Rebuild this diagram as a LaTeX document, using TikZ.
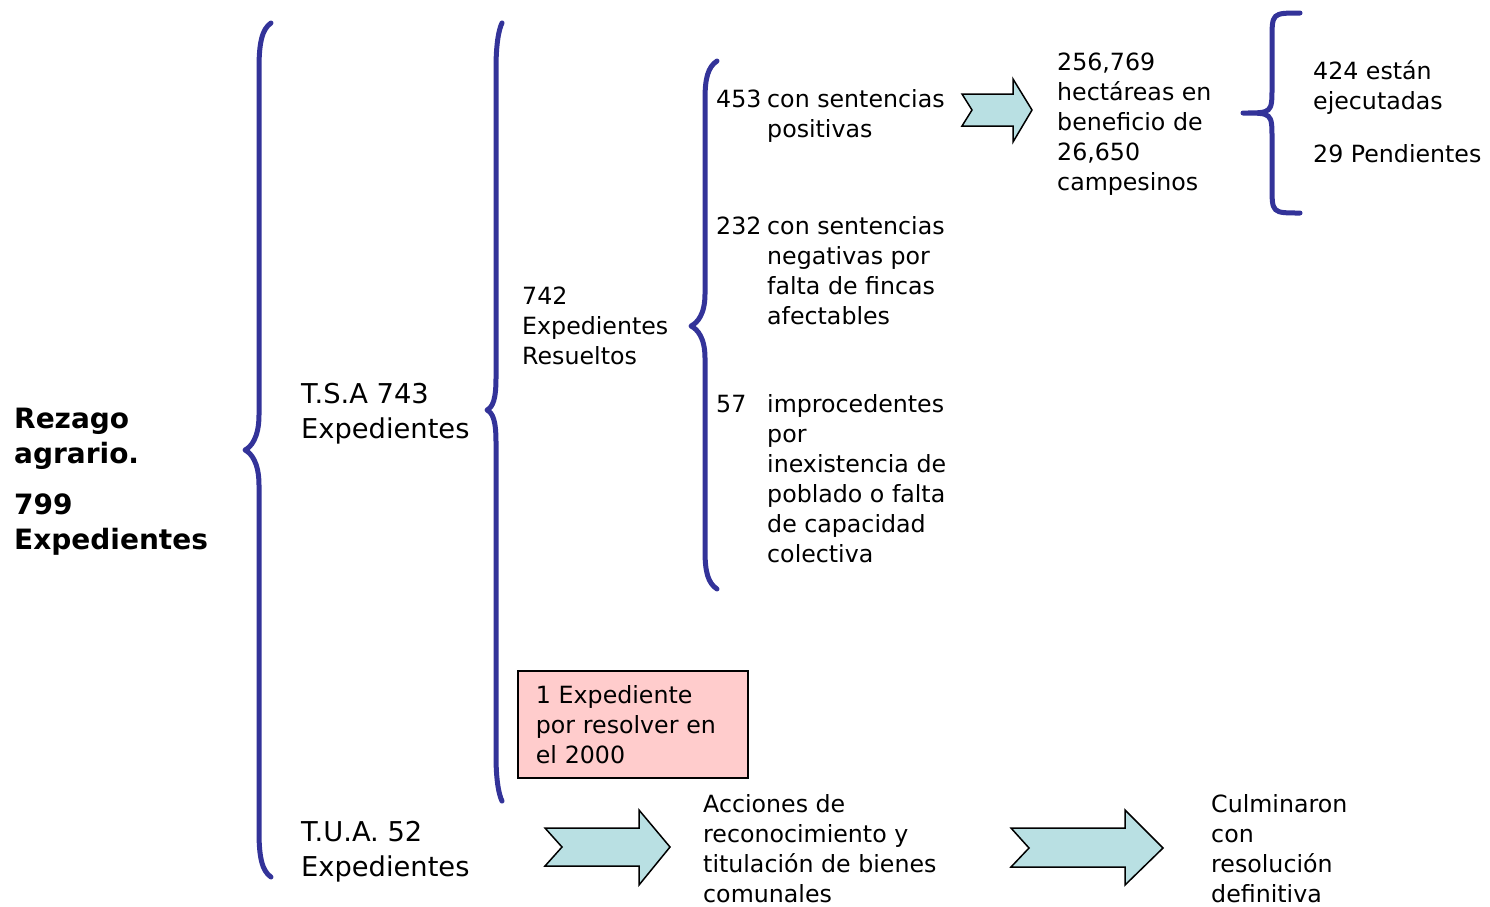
\documentclass[tikz,border=0pt]{standalone}
\usepackage{fontspec}
\setmainfont{DejaVu Sans}
\definecolor{bracecol}{HTML}{333399}
\definecolor{arrowfill}{HTML}{B9E0E3}
\definecolor{pinkfill}{HTML}{FFCCCC}
% rounded (quarter-ellipse) brace
\newcommand\bracedraw[8]{%
  \draw[bracesty] (#1,#4) .. controls (#2,#4) .. (#2,#4+#7) -- (#2,#5-#8)
    .. controls (#2,#5) .. (#3,#5) .. controls (#2,#5) .. (#2,#5+#8)
    -- (#2,#6-#7) .. controls (#2,#6) .. (#1,#6);}
% tall brace with swept ends
\newcommand\tallbrace[8]{%
  \draw[bracesty] (#1,#4) .. controls (#2+3,#4+6) and (#2,#4+#7*0.45) .. (#2,#4+#7) -- (#2,#5-#8)
    .. controls (#2,#5-#8*0.35) and (#3+6,#5-3) .. (#3,#5) .. controls (#3+6,#5+3) and (#2,#5+#8*0.35) .. (#2,#5+#8)
    -- (#2,#6-#7) .. controls (#2,#6-#7*0.45) and (#2+3,#6-6) .. (#1,#6);}
\newcommand\blockarrow[9]{%
  \draw[blockarr] (#1,#5) -- (#3,#5) -- (#3,#7) -- (#4,#9) -- (#3,#8)
    -- (#3,#6) -- (#1,#6) -- (#2,#9) -- cycle;}
\begin{document}
\begin{tikzpicture}[x=1pt,y=-1pt,
  bracesty/.style={draw=bracecol,line width=5pt,line cap=round,line join=round},
  blockarr/.style={draw=black,fill=arrowfill,line width=1.5pt,line join=miter},
  txt/.style={anchor=base west,inner sep=0pt,align=left,font=\fontsize{23.7}{30}\selectfont},
  bigtxt/.style={anchor=base west,inner sep=0pt,align=left,font=\fontsize{27.3}{35.5}\selectfont},
  boldtxt/.style={anchor=base west,inner sep=0pt,align=left,font=\fontsize{28}{35.5}\selectfont\bfseries},
  pinkbox/.style={draw=black,fill=pinkfill,line width=1.5pt,anchor=north west,
    minimum width=230pt,minimum height=107pt,inner xsep=18pt,inner ysep=0pt,
    text width=194pt,align=left,font=\fontsize{23.7}{30}\selectfont}]
\useasboundingbox (0,0) rectangle (1490,906);
% braces
\tallbrace{271}{259}{245}{23}{450}{877}{45}{35}
\tallbrace{502}{496}{487}{23}{410}{801}{45}{32}
\tallbrace{717}{705}{691}{61}{326}{589}{38}{32}
\bracedraw{1300}{1272}{1243}{13}{113}{213}{27}{26}
% arrows
\blockarrow{962}{972}{1013}{1032}{94}{126}{79}{142}{110}
\blockarrow{545}{562}{639}{670}{828}{866}{810}{885}{847}
\blockarrow{1011}{1029}{1125}{1163}{828}{867}{810}{885}{848}
% texts (anchor = baseline of the last line)
\node[boldtxt] (rez) at (14,463.5) {Rezago\\agrario.};
\node[boldtxt] (tot) at (14,549.5) {799\\Expedientes};
\node[bigtxt] (tsa) at (301,438.5) {T.S.A 743\\Expedientes};
\node[bigtxt] (tua) at (301,876.5) {T.U.A. 52\\Expedientes};
\node[txt] (res) at (522,364) {742\\Expedientes\\Resueltos};
\node[txt] (n453) at (716,107) {453};
\node[txt] (t453) at (767,137) {con sentencias\\positivas};
\node[txt] (n232) at (716,234) {232};
\node[txt] (t232) at (767,324) {con sentencias\\negativas por\\falta de fincas\\afectables};
\node[txt] (n57) at (716,412) {57};
\node[txt] (t57) at (767,562) {improcedentes\\por\\inexistencia de\\poblado o falta\\de capacidad\\colectiva};
\node[txt] (hec) at (1057,190) {256,769\\hectáreas en\\beneficio de\\26,650\\campesinos};
\node[txt] (eje) at (1313,109) {424 están\\ejecutadas};
\node[txt] (pen) at (1313,162) {29 Pendientes};
\node[pinkbox] (box) at (517,670) {1 Expediente\\por resolver en\\el 2000};
\node[txt] (acc) at (703,902) {Acciones de\\reconocimiento y\\titulación de bienes\\comunales};
\node[txt] (cul) at (1211,902) {Culminaron\\con\\resolución\\definitiva};
\end{tikzpicture}
\end{document}
